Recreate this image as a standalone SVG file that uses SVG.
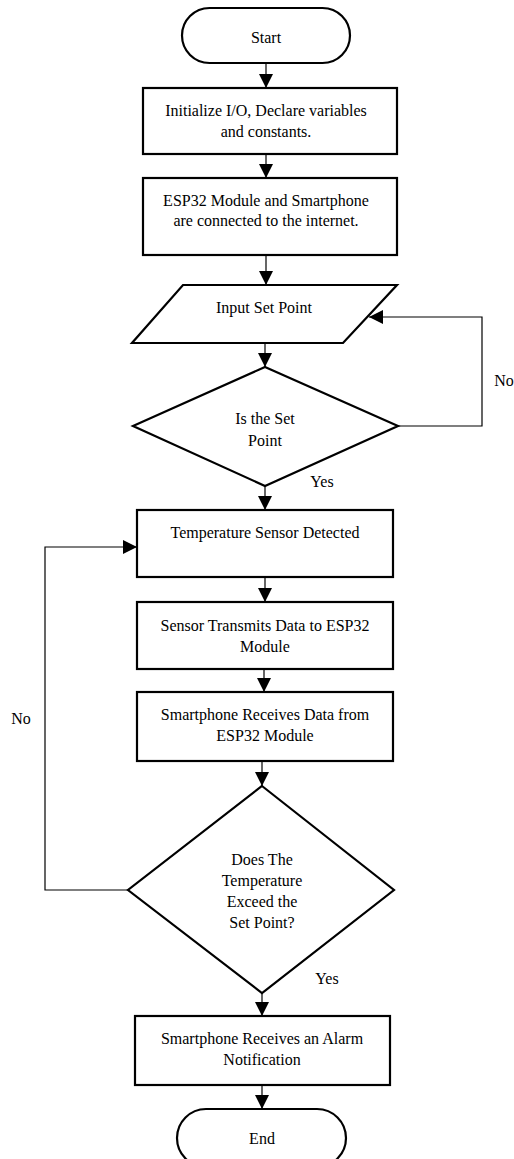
<svg xmlns="http://www.w3.org/2000/svg" width="514" height="1159" viewBox="0 0 514 1159">
<style>
.s{fill:#fff;stroke:#000;stroke-width:2.2}
.c{fill:none;stroke:#000;stroke-width:1.2}
text{font-family:"Liberation Serif","Times New Roman",serif;font-size:16px;fill:#000;text-anchor:middle;dominant-baseline:central}
</style>
<defs>
<marker id="ah" viewBox="0 0 14 14" markerWidth="14" markerHeight="14" markerUnits="userSpaceOnUse" refX="14" refY="7" orient="auto">
<path d="M0,0 L14,7 L0,14 Z" fill="#000"/>
</marker>
</defs>
<rect width="514" height="1159" fill="#fff"/>
<g id="connectors">
<line class="c" x1="266" y1="63" x2="266" y2="88" marker-end="url(#ah)"/>
<line class="c" x1="266" y1="154" x2="266" y2="178" marker-end="url(#ah)"/>
<line class="c" x1="266" y1="255" x2="266" y2="285" marker-end="url(#ah)"/>
<line class="c" x1="265" y1="343" x2="265" y2="367" marker-end="url(#ah)"/>
<polyline class="c" points="398,426 482,426 482,317 369,317" marker-end="url(#ah)"/>
<line class="c" x1="265" y1="486" x2="265" y2="510" marker-end="url(#ah)"/>
<polyline class="c" points="128,890 45,890 45,547 137,547" marker-end="url(#ah)"/>
<line class="c" x1="265" y1="577" x2="265" y2="602" marker-end="url(#ah)"/>
<line class="c" x1="264" y1="669" x2="264" y2="692" marker-end="url(#ah)"/>
<line class="c" x1="262" y1="761" x2="262" y2="786" marker-end="url(#ah)"/>
<line class="c" x1="262" y1="993" x2="262" y2="1016" marker-end="url(#ah)"/>
<line class="c" x1="262" y1="1085" x2="262" y2="1109" marker-end="url(#ah)"/>
<text x="504" y="380">No</text>
<text x="322" y="481">Yes</text>
<text x="21" y="718">No</text>
<text x="327" y="978">Yes</text>
</g>
<g id="start">
<rect class="s" x="182" y="8" width="168" height="55" rx="27.5"/>
<text x="266" y="37">Start</text>
</g>
<g id="init">
<rect class="s" x="143" y="88" width="254" height="66"/>
<text x="266" y="110">Initialize I/O, Declare variables</text>
<text x="266" y="131">and constants.</text>
</g>
<g id="connect">
<rect class="s" x="143" y="178" width="254" height="77"/>
<text x="266" y="200">ESP32 Module and Smartphone</text>
<text x="266" y="220">are connected to the internet.</text>
</g>
<g id="input">
<polygon class="s" points="183,285 397,285 343,343 132,343"/>
<text x="264" y="307">Input Set Point</text>
</g>
<g id="decision1">
<polygon class="s" points="265,367 398,426 265,486 133,426"/>
<text x="265" y="418">Is the Set</text>
<text x="265" y="440">Point</text>
</g>
<g id="sensor">
<rect class="s" x="137" y="510" width="256" height="67"/>
<text x="265" y="532">Temperature Sensor Detected</text>
</g>
<g id="transmit">
<rect class="s" x="137" y="602" width="256" height="67"/>
<text x="265" y="625">Sensor Transmits Data to ESP32</text>
<text x="265" y="646">Module</text>
</g>
<g id="receive">
<rect class="s" x="137" y="692" width="256" height="69"/>
<text x="265" y="714">Smartphone Receives Data from</text>
<text x="265" y="735">ESP32 Module</text>
</g>
<g id="decision2">
<polygon class="s" points="262,786 394,890 262,993 128,890"/>
<text x="262" y="859">Does The</text>
<text x="262" y="880">Temperature</text>
<text x="262" y="901">Exceed the</text>
<text x="262" y="922">Set Point?</text>
</g>
<g id="alarm">
<rect class="s" x="135" y="1016" width="255" height="69"/>
<text x="262" y="1038">Smartphone Receives an Alarm</text>
<text x="262" y="1059">Notification</text>
</g>
<g id="end">
<rect class="s" x="177" y="1109" width="169" height="58" rx="29"/>
<text x="262" y="1138">End</text>
</g>
</svg>
